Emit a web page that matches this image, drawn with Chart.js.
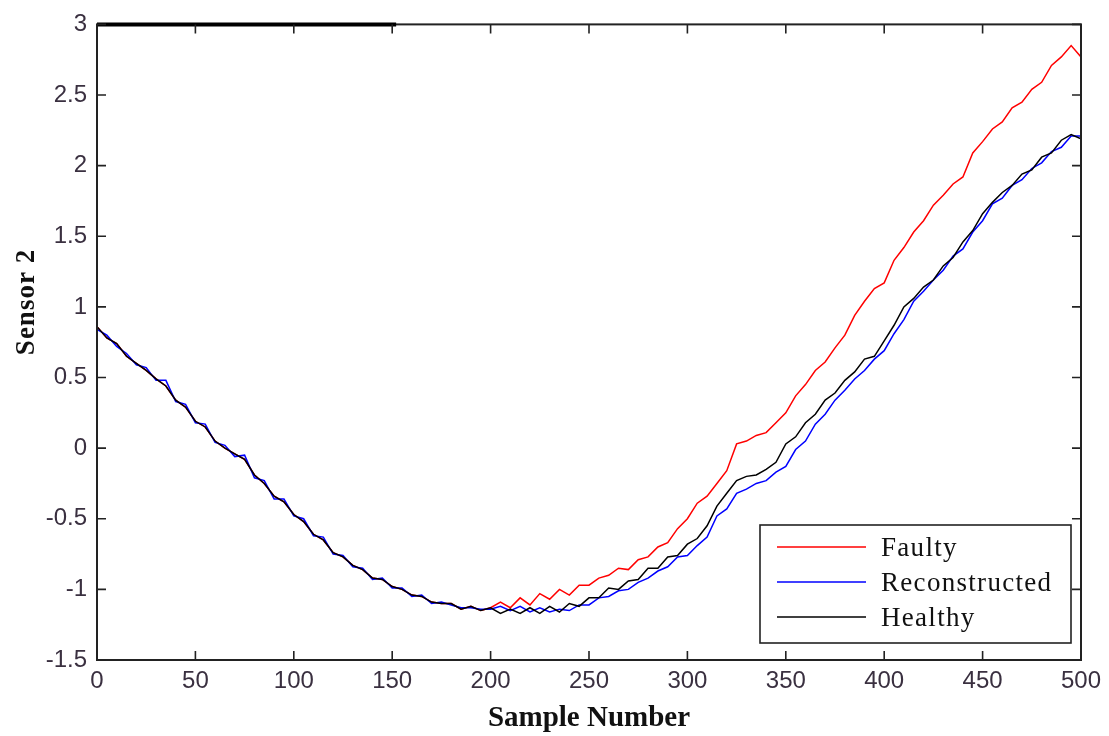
<!DOCTYPE html>
<html>
<head>
<meta charset="utf-8">
<script src="https://cdn.jsdelivr.net/npm/chart.js@4"></script>
<style>
  html, body { margin: 0; padding: 0; background: #fff; }
  #wrap { width: 1109px; height: 736px; }
</style>
</head>
<body>
<div id="wrap"><canvas id="myChart" width="1109" height="736"></canvas></div>
<script>
// Data (every 5th sample)

var samples = [0,5,10,15,20,25,30,35,40,45,50,55,60,65,70,75,80,85,90,95,
  100,105,110,115,120,125,130,135,140,145,150,155,160,165,170,175,180,185,190,195,
  200,205,210,215,220,225,230,235,240,245,250,255,260,265,270,275,280,285,290,295,
  300,305,310,315,320,325,330,335,340,345,350,355,360,365,370,375,380,385,390,395,
  400,405,410,415,420,425,430,435,440,445,450,455,460,465,470,475,480,485,490,495,500];

var healthy = [0.86,0.78,0.74,0.65,0.60,0.55,0.49,0.44,0.34,0.29,0.19,0.15,0.05,0.00,-0.04,-0.08,-0.19,-0.25,-0.34,-0.38,
  -0.47,-0.52,-0.61,-0.65,-0.74,-0.77,-0.83,-0.86,-0.92,-0.93,-0.98,-1.00,-1.04,-1.05,-1.09,-1.10,-1.10,-1.14,-1.12,-1.15,
  -1.13,-1.17,-1.14,-1.17,-1.13,-1.17,-1.12,-1.16,-1.10,-1.12,-1.06,-1.06,-0.99,-1.00,-0.94,-0.93,-0.85,-0.85,-0.77,-0.76,
  -0.68,-0.64,-0.55,-0.41,-0.32,-0.23,-0.20,-0.19,-0.15,-0.10,0.03,0.08,0.18,0.24,0.34,0.39,0.48,0.54,0.63,0.65,
  0.76,0.87,1.00,1.06,1.14,1.19,1.29,1.35,1.46,1.54,1.66,1.74,1.81,1.86,1.94,1.97,2.06,2.09,2.18,2.22,2.19];

var faulty = [0.86,0.78,0.74,0.65,0.60,0.55,0.49,0.44,0.34,0.29,0.19,0.15,0.05,0.00,-0.04,-0.08,-0.19,-0.25,-0.34,-0.38,
  -0.47,-0.52,-0.61,-0.65,-0.74,-0.77,-0.83,-0.86,-0.92,-0.93,-0.98,-1.00,-1.04,-1.05,-1.09,-1.10,-1.10,-1.14,-1.12,-1.15,
  -1.13,-1.09,-1.13,-1.06,-1.11,-1.03,-1.07,-1.00,-1.04,-0.97,-0.97,-0.92,-0.90,-0.85,-0.86,-0.79,-0.77,-0.70,-0.67,-0.57,
  -0.50,-0.39,-0.34,-0.25,-0.16,0.03,0.05,0.09,0.11,0.18,0.25,0.37,0.45,0.55,0.61,0.71,0.80,0.94,1.04,1.13,
  1.17,1.33,1.42,1.53,1.61,1.72,1.79,1.87,1.92,2.09,2.17,2.26,2.31,2.41,2.45,2.54,2.59,2.71,2.77,2.85,2.77];

var reconstructed = [0.84,0.80,0.72,0.67,0.59,0.57,0.48,0.48,0.33,0.31,0.18,0.17,0.04,0.02,-0.06,-0.05,-0.21,-0.23,-0.36,-0.36,
  -0.48,-0.50,-0.62,-0.63,-0.75,-0.76,-0.84,-0.85,-0.93,-0.92,-0.99,-0.99,-1.05,-1.04,-1.10,-1.09,-1.11,-1.13,-1.13,-1.14,
  -1.14,-1.12,-1.15,-1.12,-1.16,-1.13,-1.16,-1.14,-1.15,-1.11,-1.11,-1.06,-1.05,-1.01,-1.00,-0.95,-0.92,-0.87,-0.84,-0.77,
  -0.76,-0.69,-0.63,-0.48,-0.43,-0.32,-0.29,-0.25,-0.23,-0.17,-0.13,-0.01,0.05,0.17,0.24,0.34,0.41,0.49,0.55,0.63,
  0.69,0.81,0.91,1.04,1.11,1.19,1.26,1.36,1.41,1.53,1.61,1.73,1.77,1.86,1.90,1.98,2.02,2.10,2.13,2.21,2.21];

var xTicks = [0,50,100,150,200,250,300,350,400,450,500];
var yTicks = [-1.5,-1,-0.5,0,0.5,1,1.5,2,2.5,3];

function toPoints(values) {
  return samples.map(function(s, i) { return { x: s, y: values[i] }; });
}

var tickFont = { family: "'Liberation Sans', Arial, sans-serif", size: 24 };
var tickColor = '#3a3040';
var serif = "'Liberation Serif', 'Times New Roman', serif";

// Box, inward ticks, legend, y title
var matlabAxes = {
  id: 'matlabAxes',
  afterDraw: function(chart) {
    var c = chart.ctx, a = chart.chartArea;
    var xs = chart.scales.x, ys = chart.scales.y;
    c.save();
    c.strokeStyle = '#222';
    c.lineWidth = 2;
    c.strokeRect(a.left, a.top, a.right - a.left, a.bottom - a.top);
    // heavier piece of the top edge seen in the picture
    c.strokeStyle = '#000';
    c.lineWidth = 4;
    c.beginPath();
    c.moveTo(a.left, a.top);
    c.lineTo(xs.getPixelForValue(152), a.top);
    c.stroke();

    c.strokeStyle = '#222';
    c.lineWidth = 1.6;
    c.beginPath();
    xTicks.forEach(function(v) {
      var px = xs.getPixelForValue(v);
      c.moveTo(px, a.bottom); c.lineTo(px, a.bottom - 9);
      c.moveTo(px, a.top); c.lineTo(px, a.top + 9);
    });
    yTicks.forEach(function(v) {
      var py = ys.getPixelForValue(v);
      c.moveTo(a.left, py); c.lineTo(a.left + 9, py);
      c.moveTo(a.right, py); c.lineTo(a.right - 9, py);
    });
    c.stroke();

    // legend box
    var lx = 760, ly = 525, lw = 311, lh = 118;
    c.fillStyle = '#fff';
    c.fillRect(lx, ly, lw, lh);
    c.lineWidth = 1.6;
    c.strokeStyle = '#222';
    c.strokeRect(lx, ly, lw, lh);
    c.font = '27px ' + serif;
    c.letterSpacing = '1.3px';
    c.textBaseline = 'middle';
    chart.data.datasets.forEach(function(ds, i) {
      var yy = ly + 22 + i * 35;
      c.strokeStyle = ds.borderColor;
      c.lineWidth = 1.4;
      c.beginPath();
      c.moveTo(lx + 17, yy); c.lineTo(lx + 106, yy);
      c.stroke();
      c.fillStyle = '#111';
      c.fillText(ds.label, lx + 121, yy + 2);
    });

    // y axis title
    c.translate(27, 302);
    c.rotate(-Math.PI / 2);
    c.font = 'bold 27px ' + serif;
    c.letterSpacing = '1px';
    c.fillStyle = '#111';
    c.textAlign = 'center';
    c.fillText('Sensor 2', 0, 0);
    c.restore();
  }
};

var ctx = document.getElementById('myChart').getContext('2d');

var chart = new Chart(ctx, {
  type: 'line',
  data: {
    datasets: [{
      label: 'Faulty',
      borderColor: '#ff0000',
      data: toPoints(faulty),
      order: 3
    },
    {
      label: 'Reconstructed',
      borderColor: '#0000ff',
      data: toPoints(reconstructed),
      order: 2
    },
    {
      label: 'Healthy',
      borderColor: '#000000',
      data: toPoints(healthy),
      order: 1
    }]
  },
  options: {
    responsive: false,
    animation: false,
    elements: {
      point: { radius: 0 },
      line: { borderWidth: 1.5, tension: 0 }
    },
    layout: { padding: { left: 0, top: 24, right: 28, bottom: 0 } },
    plugins: {
      legend: { display: false },
      tooltip: { enabled: false }
    },
    scales: {
      x: {
        type: 'linear',
        min: 0,
        max: 500,
        afterBuildTicks: function(scale) {
          scale.ticks = xTicks.map(function(v) { return { value: v }; });
        },
        afterFit: function(scale) { scale.height = 76; },
        grid: { display: false, drawTicks: false },
        border: { display: false },
        ticks: {
          font: tickFont, color: tickColor, padding: 7, maxRotation: 0,
          callback: function(v) { return String(v); }
        },
        title: {
          display: true,
          text: 'Sample Number',
          font: { family: serif, size: 29, weight: 'bold' },
          color: '#111',
          padding: { top: 4, bottom: 0 }
        }
      },
      y: {
        min: -1.5,
        max: 3,
        afterBuildTicks: function(scale) {
          scale.ticks = yTicks.map(function(v) { return { value: v }; });
        },
        afterFit: function(scale) { scale.width = 97; },
        grid: { display: false, drawTicks: false },
        border: { display: false },
        ticks: {
          font: tickFont, color: tickColor, padding: 10,
          callback: function(v) { return String(v); }
        }
      }
    }
  },
  plugins: [matlabAxes]
});
</script>
</body>
</html>
